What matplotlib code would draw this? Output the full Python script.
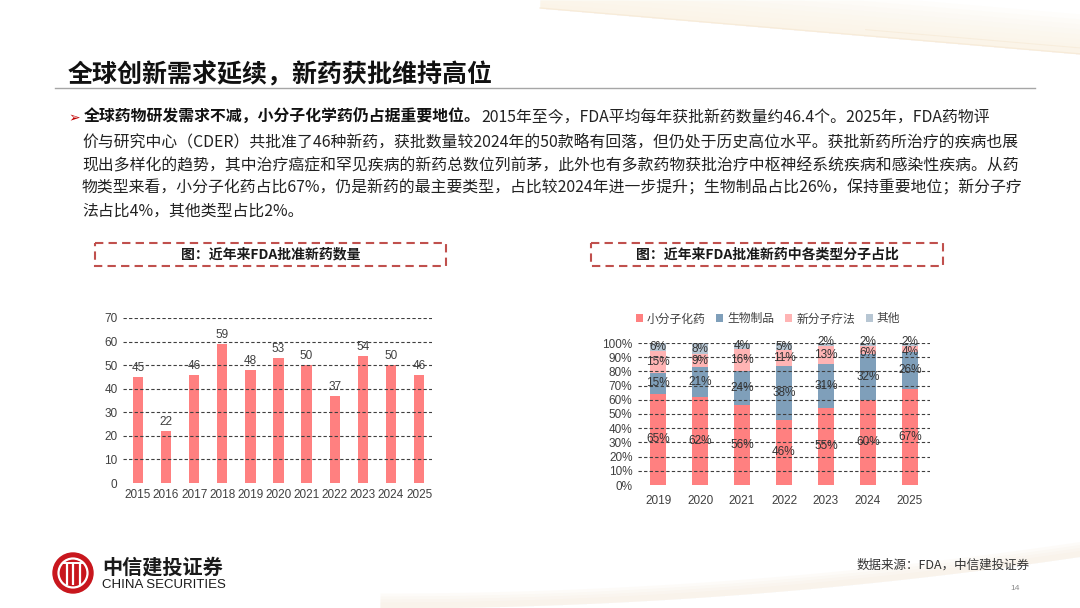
import numpy as np
import matplotlib
matplotlib.use("Agg")
import matplotlib.pyplot as plt
from matplotlib.patches import Rectangle, Circle

plt.rcParams['font.family'] = ['Noto Sans CJK SC', 'DejaVu Sans']

# data
years_l = ['2015', '2016', '2017', '2018', '2019', '2020', '2021', '2022', '2023', '2024', '2025']
approvals = [45, 22, 46, 59, 48, 53, 50, 37, 54, 50, 46]

years_r = ['2019', '2020', '2021', '2022', '2023', '2024', '2025']
small_mol = [65, 62, 56, 46, 55, 60, 67]
biologics = [15, 21, 24, 38, 31, 32, 26]
new_mod = [15, 9, 16, 11, 13, 6, 4]
others = [6, 8, 4, 5, 2, 2, 2]
series_names = ['小分子化药', '生物制品', '新分子疗法', '其他']
series_colors = ['#FF8080', '#7F9FBA', '#FFB4B4', '#B7C6D3']

title = '全球创新需求延续，新药获批维持高位'
bold_lead = '全球药物研发需求不减，小分子化学药仍占据重要地位。'
para_lines = [
    '2015年至今，FDA平均每年获批新药数量约46.4个。2025年，FDA药物评',
    '价与研究中心（CDER）共批准了46种新药，获批数量较2024年的50款略有回落，但仍处于历史高位水平。获批新药所治疗的疾病也展',
    '现出多样化的趋势，其中治疗癌症和罕见疾病的新药总数位列前茅，此外也有多款药物获批治疗中枢神经系统疾病和感染性疾病。从药',
    '物类型来看，小分子化药占比67%，仍是新药的最主要类型，占比较2024年进一步提升；生物制品占比26%，保持重要地位；新分子疗',
    '法占比4%，其他类型占比2%。',
]
chart_title_l = '图：近年来FDA批准新药数量'
chart_title_r = '图：近年来FDA批准新药中各类型分子占比'
source = '数据来源：FDA，中信建投证券'

W, H = 1080, 608
fig = plt.figure(figsize=(10.8, 6.08), dpi=100)
fig.patch.set_facecolor('white')

# background / decoration axes in pixel coords
bg = fig.add_axes([0, 0, 1, 1])
bg.set_xlim(0, W)
bg.set_ylim(H, 0)
bg.axis('off')

# faint beige swoosh at top right
xs = np.linspace(540, W, 200)
curve = 8 + (xs - 540) * 0.085
for k in range(8):
    bg.fill_between(xs, np.maximum(curve - 40 + k * 5, 0), curve, color='#FBF1DF',
                    alpha=0.12, lw=0)
bg.plot(xs, curve, color='#F5E6CF', lw=1.0, alpha=0.6)
bg.plot(xs[120:], curve[120:] - 6, color='#F5E6CF', lw=0.8, alpha=0.5)
# faint band at bottom
xs2 = np.linspace(380, W, 200)
y1 = 604 - (xs2 - 380) ** 2 / 9500
for k in range(4):
    bg.fill_between(xs2, y1 - 2 - k * 3, y1 + 4, color='#F6EBDD', alpha=0.18, lw=0)

# title
bg.text(68, 75, title, fontsize=18, fontweight='bold', color='#111111', va='center', ha='left')
bg.plot([55, 1035], [88, 88], color='#A6A6A6', lw=1)

# paragraph
line_y = [122, 146, 170, 193, 216]
pfs = 11.4
bg.text(68, line_y[0], '➢', fontsize=10, color='#C00000', va='baseline', ha='left',
        family=['DejaVu Sans'])
t0 = bg.text(84, line_y[0], bold_lead, fontsize=pfs, fontweight='bold', color='#111111',
             va='baseline', ha='left')
fig.canvas.draw()
bb = t0.get_window_extent(fig.canvas.get_renderer())
bg.text(bb.x1, line_y[0], para_lines[0], fontsize=pfs, color='#222222', va='baseline', ha='left')
for yy, ln in zip(line_y[1:], para_lines[1:]):
    bg.text(82, yy, ln, fontsize=pfs, color='#222222', va='baseline', ha='left')

# dashed title boxes
for (x0, x1, txt) in [(95, 446, chart_title_l), (591, 943, chart_title_r)]:
    bg.add_patch(Rectangle((x0, 243), x1 - x0, 23, fill=False, edgecolor='#C0504D',
                           lw=1.5, ls=(0, (4, 2.5))))
    bg.text((x0 + x1) / 2, 254.5, txt, fontsize=10, fontweight='bold', color='#1A1A1A',
            ha='center', va='center')

# footer: logo
bg.add_patch(Circle((73, 573), 20, color='#C8161D'))
bg.add_patch(Circle((73, 573), 14.5, fill=False, edgecolor='white', lw=1.6))
for xx in [66.5, 73, 79.5]:
    bg.plot([xx, xx], [563, 585], color='white', lw=1.6, solid_capstyle='butt')
bg.plot([64, 82], [563, 563], color='white', lw=1.4)
bg.text(102, 567, '中信建投证券', fontsize=14.5, fontweight='bold', color='#1A1A1A',
        ha='left', va='center')
bg.text(102, 585, 'CHINA SECURITIES', fontsize=9.5, color='#1A1A1A', ha='left', va='center',
        family=['Liberation Sans', 'DejaVu Sans'])
bg.text(1030, 565, source, fontsize=9, color='#333333', ha='right', va='center', style='italic')
bg.text(1015, 588, '14', fontsize=6, color='#8C8C8C', ha='center', va='center',
        family=['Liberation Sans', 'DejaVu Sans'])

num_font = ['Liberation Sans', 'Noto Sans CJK SC']
grid_kw = dict(color='#3F3F3F', lw=0.8, ls=(0, (3, 2)), zorder=3)

# left chart
axl = fig.add_axes([123 / W, 1 - 483 / H, (432 - 123) / W, (483 - 318) / H])
axl.set_facecolor('none')
xl = np.arange(len(years_l))
axl.bar(xl, approvals, width=0.37, color='#FF8080', zorder=2)
axl.set_xlim(-0.53, len(years_l) - 0.54)
axl.set_ylim(0, 70)
axl.set_yticks(range(0, 71, 10))
for yv in range(10, 71, 10):
    axl.axhline(yv, **grid_kw)
axl.set_xticks(xl)
axl.set_xticklabels(years_l)
for i, v in enumerate(approvals):
    axl.text(i, v + 1.2, str(v), ha='center', va='bottom', fontsize=8.5, color='#404040',
             family=num_font, zorder=4)

# right chart
axr = fig.add_axes([638 / W, 1 - 485 / H, (930 - 638) / W, (485 - 343) / H])
axr.set_facecolor('none')
xr = np.arange(len(years_r))
data = np.array([small_mol, biologics, new_mod, others], dtype=float)
shares = data / data.sum(axis=0)
bottom = np.zeros(len(years_r))
for k in range(4):
    axr.bar(xr, shares[k], bottom=bottom, width=0.38, color=series_colors[k], zorder=2,
            label=series_names[k])
    for i in range(len(years_r)):
        yc = bottom[i] + shares[k][i] / 2
        # thin top segments: spread labels apart
        if k == 3 and shares[k][i] < 0.035:
            yc += 0.02
        if k == 2 and shares[k][i] < 0.07:
            yc -= 0.02
        axr.text(i, yc, f'{int(data[k][i])}%', ha='center',
                 va='center', fontsize=8.5, color='#333333', family=num_font, zorder=4)
    bottom += shares[k]
axr.set_xlim(-0.48, len(years_r) - 0.52)
axr.set_ylim(0, 1)
axr.set_yticks(np.arange(0, 1.01, 0.1))
axr.set_yticklabels([f'{int(round(v * 100))}%' for v in np.arange(0, 1.01, 0.1)])
for yv in np.arange(0.1, 1.01, 0.1):
    axr.axhline(yv, **grid_kw)
axr.set_xticks(xr)
axr.set_xticklabels(years_r)
leg = axr.legend(loc='center', bbox_to_anchor=(0.445, 1.17), ncol=4, frameon=False,
                 fontsize=8.5, handlelength=0.6, handleheight=0.6, handletextpad=0.35,
                 columnspacing=0.9)
for t in leg.get_texts():
    t.set_color('#404040')

for ax in (axl, axr):
    for s in ax.spines.values():
        s.set_visible(False)
    ax.tick_params(length=0, labelsize=8.5, colors='#404040', pad=4)
    for lab in ax.get_xticklabels() + ax.get_yticklabels():
        lab.set_family(num_font)
axr.tick_params(axis='x', pad=7)

fig.savefig('out.png', dpi=100)
